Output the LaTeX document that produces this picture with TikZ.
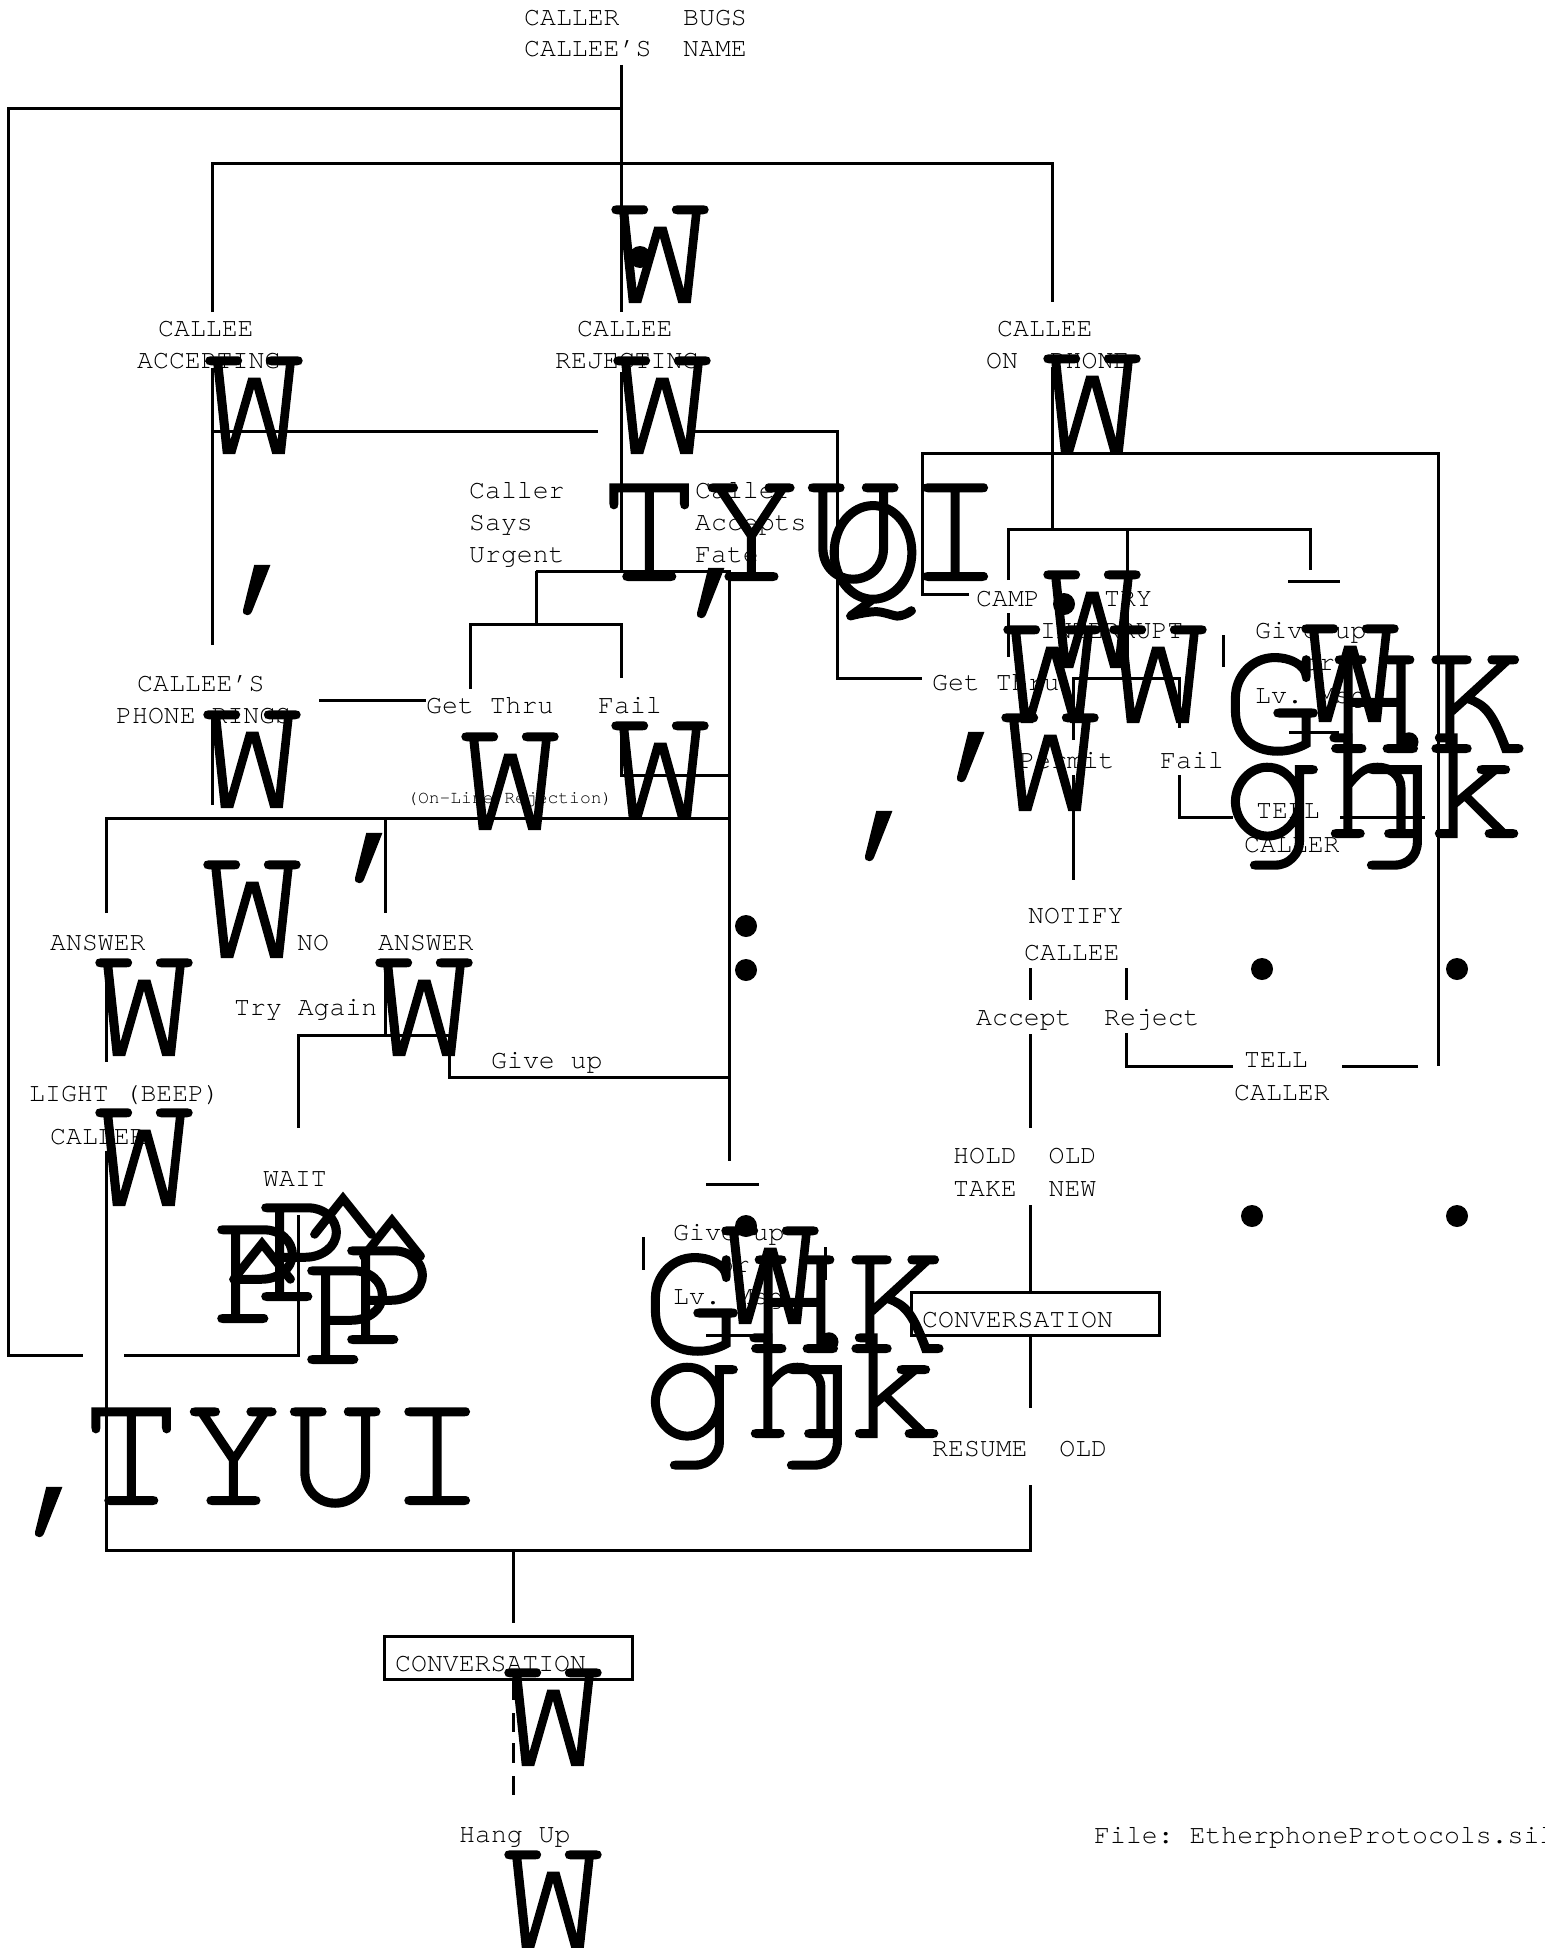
\documentclass[tikz,border=0pt]{standalone}
\usepackage{fontspec}
\newfontfamily\silfont{TeX Gyre Cursor}
\newfontfamily\silbig[FakeBold=1.2]{TeX Gyre Cursor}
\usetikzlibrary{positioning}
\frenchspacing
\tikzset{
  lbl/.style={anchor=base west, inner sep=0pt, font=\silfont\fontsize{26.5}{26.5}\selectfont},
  smalllbl/.style={lbl, font=\silfont\fontsize{18}{18}\selectfont},
  glyph/.style={anchor=base, inner sep=0pt, font=\silbig\fontsize{170}{170}\selectfont},
  glyphrow/.style={glyph, anchor=base west},
  wire/.style={line width=3pt},
  blob/.style={circle, fill=black, inner sep=0pt, minimum size=22pt},
}

\begin{document}
\begin{tikzpicture}[x=1pt, y=-1pt]
  \fill[white] (0,0) rectangle (1544,1948);
  \useasboundingbox (0,0) rectangle (1544,1948);

  % wiring, left half
  \draw[wire] (621,65) -- (621,312);
  \draw[wire] (621,109) -- (8,109) -- (8,1355) -- (83,1355);
  \draw[wire] (124,1355) -- (298,1355) -- (298,1215);
  \draw[wire] (212,312) -- (212,163) -- (1052,163) -- (1052,302);
  \draw[wire] (621,372) -- (621,571);
  \draw[wire] (212,368) -- (212,645);
  \draw[wire] (212,431) -- (598,431);
  \draw[wire] (690,431) -- (837,431) -- (837,678) -- (922,678);
  \draw[wire] (536,571) -- (729,571) -- (729,1161);
  \draw[wire] (536,571) -- (536,624);
  \draw[wire] (470,689) -- (470,624) -- (621,624) -- (621,678);
  \draw[wire] (319,700) -- (426,700);
  \draw[wire] (212,711) -- (212,805);
  \draw[wire] (621,728) -- (621,775) -- (729,775);
  \draw[wire] (106,913) -- (106,818) -- (729,818);
  \draw[wire] (385,818) -- (385,913);
  \draw[wire] (106,960) -- (106,1062);
  \draw[wire] (385,962) -- (385,1035) -- (298,1035) -- (298,1128);
  \draw[wire] (385,1035) -- (449,1035) -- (449,1077) -- (729,1077);
  \draw[wire] (106,1151) -- (106,1550) -- (1030,1550) -- (1030,1485);
  \draw[wire] (513,1550) -- (513,1623);
  \draw[wire, dash pattern=on 20pt off 13pt on 19pt off 11pt] (513,1680) -- (513,1795);
  \draw[wire] (706,1184) -- (759,1184);
  \draw[wire] (643,1237) -- (643,1270);
  \draw[wire] (825,1247) -- (825,1280);
  \draw[wire] (706,1335) -- (759,1335);

  % wiring, right half
  \draw[wire] (1052,368) -- (1052,528);
  \draw[wire] (969,594) -- (922,594) -- (922,453) -- (1438,453) -- (1438,1066);
  \draw[wire] (1008,580) -- (1008,529) -- (1310,529) -- (1310,570);
  \draw[wire] (1008,613) -- (1008,657);
  \draw[wire] (1127,529) -- (1127,678);
  \draw[wire] (1073,740) -- (1073,678) -- (1179,678) -- (1179,728);
  \draw[wire] (1288,581) -- (1340,581);
  \draw[wire] (1289,732) -- (1339,732);
  \draw[wire] (1223,635) -- (1223,667);
  \draw[wire] (1073,775) -- (1073,880);
  \draw[wire] (1179,775) -- (1179,817) -- (1233,817);
  \draw[wire] (1340,817) -- (1425,817);
  \draw[wire] (1030,968) -- (1030,1000);
  \draw[wire] (1126,968) -- (1126,1000);
  \draw[wire] (1030,1034) -- (1030,1128);
  \draw[wire] (1126,1033) -- (1126,1066) -- (1233,1066);
  \draw[wire] (1342,1066) -- (1418,1066);
  \draw[wire] (1030,1205) -- (1030,1292);
  \draw[wire] (1030,1335) -- (1030,1408);

  % boxes
  \draw[wire] (911,1292) rectangle (1159,1335);
  \draw[wire] (384,1636) rectangle (632,1679);

  % labels
  \node[lbl] (bugs1) at (524,26) {CALLER~~~~BUGS};
  \node[lbl] (bugs2) at (524,57) {CALLEE’S~~NAME};
  \node[lbl] (acc1) at (158,336) {CALLEE};
  \node[lbl] (acc2) at (137,368) {ACCEPTING};
  \node[lbl] (rej1) at (577,336) {CALLEE};
  \node[lbl] (rej2) at (555,368) {REJECTING};
  \node[lbl] (onph1) at (997,336) {CALLEE};
  \node[lbl] (onph2) at (986,368) {ON~~PHONE};
  \node[lbl] (urg1) at (469,498) {Caller};
  \node[lbl] (urg2) at (469,530) {Says};
  \node[lbl] (urg3) at (469,562) {Urgent};
  \node[lbl] (fate1) at (695,498) {Caller};
  \node[lbl] (fate2) at (695,530) {Accepts};
  \node[lbl] (fate3) at (695,562) {Fate};
  \node[lbl] (rings1) at (137,691) {CALLEE’S};
  \node[lbl] (rings2) at (116,723) {PHONE RINGS};
  \node[lbl] (thruA) at (426,713) {Get Thru};
  \node[lbl] (failA) at (598,713) {Fail};
  \node[smalllbl] (online) at (407,803) {(On-Line Rejection)};
  \node[lbl] (ansA) at (50,950) {ANSWER};
  \node[lbl] (no) at (297,950) {NO};
  \node[lbl] (ansB) at (378,950) {ANSWER};
  \node[lbl] (again) at (234,1015) {Try Again};
  \node[lbl] (giveA) at (491,1068) {Give up};
  \node[lbl] (light1) at (29,1101) {LIGHT (BEEP)};
  \node[lbl] (light2) at (50,1144) {CALLER};
  \node[lbl] (wait) at (263,1186) {WAIT};
  \node[lbl] (giveB1) at (673,1240) {Give up};
  \node[lbl] (giveB2) at (718,1272) {or};
  \node[lbl] (giveB3) at (673,1304) {Lv. Msg};
  \node[lbl] (camp) at (976,606) {CAMP};
  \node[lbl] (try) at (1104,606) {TRY};
  \node[lbl] (intr) at (1040,638) {INTERRUPT};
  \node[lbl] (thruB) at (932,690) {Get Thru};
  \node[lbl] (giveC1) at (1255,638) {Give up};
  \node[lbl] (giveC2) at (1303,670) {or};
  \node[lbl] (giveC3) at (1255,703) {Lv. Msg};
  \node[lbl] (permit) at (1019,768) {Permit};
  \node[lbl] (failB) at (1160,768) {Fail};
  \node[lbl] (tellA1) at (1256,818) {TELL};
  \node[lbl] (tellA2) at (1244,852) {CALLER};
  \node[lbl] (notify1) at (1028,923) {NOTIFY};
  \node[lbl] (notify2) at (1024,960) {CALLEE};
  \node[lbl] (accept) at (976,1025) {Accept};
  \node[lbl] (reject) at (1104,1025) {Reject};
  \node[lbl] (tellB1) at (1244,1067) {TELL};
  \node[lbl] (tellB2) at (1234,1100) {CALLER};
  \node[lbl] (hold1) at (953,1163) {HOLD~~OLD};
  \node[lbl] (hold2) at (953,1196) {TAKE~~NEW};
  \node[lbl] (convA) at (922,1327) {CONVERSATION};
  \node[lbl] (resume) at (932,1456) {RESUME~~OLD};
  \node[lbl] (convB) at (395,1671) {CONVERSATION};
  \node[lbl] (hangup) at (459,1842) {Hang Up};
  \node[lbl] (file) at (1094,1843) {File: EtherphoneProtocols.sil};

  % stray large glyphs
  \foreach \x/\y [count=\i] in {660/302, 254/453, 662/453, 1092/451, 252/807,
      510/829, 660/818, 252/957, 144/1055, 424/1055, 144/1205, 1092/667,
      1052/722, 1158/722, 1050/810, 1350/721, 770/1323, 553/1765, 553/1947}
    \node[glyph] (w\i) at (\x,\y) {W};
  \foreach \x/\y [count=\i] in {272/590, 726/593, 384/858, 894/836, 986/757, 64/1512}
    \node[glyph, anchor=center] (comma\i) at (\x,\y) {,};
  \node[glyphrow] (tyuiA) at (598,580) {TYUI};
  \node[glyph] (q) at (873,600) {Q};
  \node[glyphrow] (tyuiB) at (80,1504) {TYUI};
  \node[glyphrow] (ghkA) at (1221,752) {GHK};
  \node[glyphrow] (ghkB) at (1221,837) {ghk};
  \node[glyph] (jA) at (1394,837) {j};
  \node[glyphrow] (ghkC) at (641,1352) {GHK};
  \node[glyphrow] (ghkD) at (641,1437) {ghk};
  \node[glyph] (jB) at (814,1437) {j};
  \node[glyph] (pA) at (262,1322) {P};
  \node[glyph] (pB) at (306,1300) {P};
  \node[glyph] (pC) at (352,1363) {P};
  \node[glyph] (pD) at (392,1343) {P};
  \node[glyph, anchor=north] (hatA) at (262,1238) {\^{}};
  \node[glyph, anchor=north] (hatB) at (343,1193) {\^{}};
  \node[glyph, anchor=north] (hatC) at (392,1215) {\^{}};

  % dots
  \foreach \x/\y [count=\i] in {640/257, 1064/604, 746/926, 746/970, 1262/969,
      1457/969, 1252/1216, 1457/1216, 746/1226}
    \node[blob] (dot\i) at (\x,\y) {};
\end{tikzpicture}
\end{document}
